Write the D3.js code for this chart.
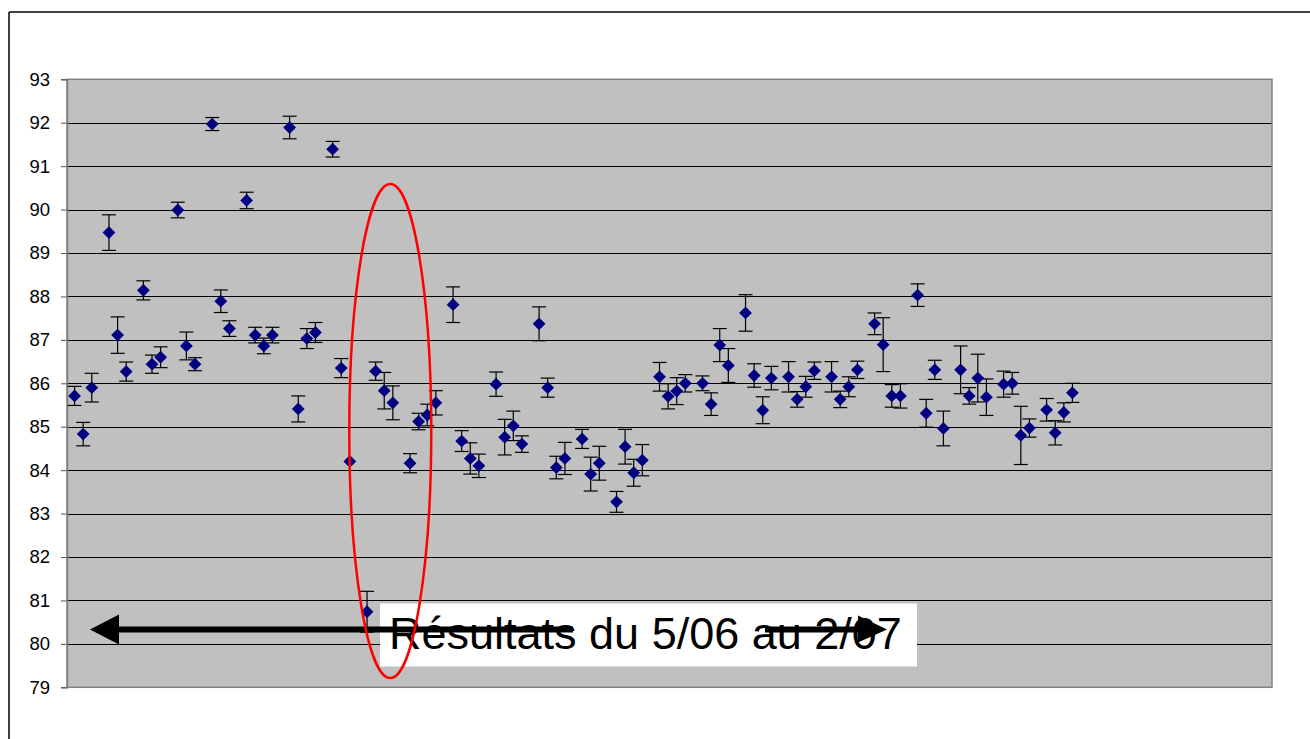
<!DOCTYPE html>
<html>
<head>
<meta charset="utf-8">
<script src="https://cdn.jsdelivr.net/npm/d3@7"></script>
<style>
  html, body { margin: 0; padding: 0; background: #fff; }
  svg { display: block; }
</style>
</head>
<body>
<svg id="chart" width="1310" height="739"></svg>
<script>
// ---- data ----
const dayIndex = [0,1,2,4,5,6,8,9,10,12,13,14,16,17,18,20,21,22,23,25,26,27,28,30,31,32,34,35,36,37,39,40,41,42,44,45,46,47,49,50,51,52,54,55,56,57,59,60,61,63,64,65,66,68,69,70,71,73,74,75,76,78,79,80,81,83,84,85,86,88,89,90,91,93,94,95,96,98,99,100,101,103,104,105,106,108,109,110,111,113,114,115,116];
const values = [85.71,84.83,85.90,89.47,87.11,86.27,88.14,86.44,86.60,89.99,86.86,86.44,91.97,87.89,87.26,90.21,87.11,86.86,87.11,91.89,85.41,87.03,87.17,91.39,86.35,84.20,80.74,86.28,85.83,85.55,84.16,85.12,85.27,85.55,87.81,84.67,84.27,84.10,85.98,84.76,85.02,84.60,87.37,85.90,84.06,84.27,84.72,83.91,84.16,83.27,84.54,83.94,84.23,86.15,85.70,85.82,86.00,86.00,85.52,86.88,86.41,87.62,86.18,85.38,86.12,86.15,85.63,85.92,86.29,86.15,85.63,85.92,86.31,87.37,86.89,85.71,85.71,88.03,85.31,86.31,84.96,86.31,85.71,86.12,85.68,85.98,86.00,84.80,84.97,85.39,84.86,85.33,85.78];
const errors = [0.22,0.27,0.33,0.41,0.42,0.22,0.22,0.21,0.24,0.18,0.32,0.15,0.15,0.26,0.18,0.19,0.18,0.18,0.18,0.26,0.30,0.23,0.23,0.18,0.22,0.0,0.47,0.21,0.42,0.39,0.22,0.19,0.25,0.28,0.41,0.24,0.36,0.27,0.28,0.41,0.34,0.19,0.39,0.22,0.26,0.37,0.22,0.39,0.39,0.24,0.40,0.31,0.36,0.33,0.29,0.31,0.20,0.17,0.26,0.38,0.39,0.42,0.27,0.31,0.27,0.35,0.18,0.24,0.20,0.35,0.19,0.23,0.20,0.25,0.62,0.26,0.28,0.26,0.32,0.22,0.40,0.55,0.19,0.55,0.42,0.30,0.25,0.67,0.21,0.26,0.28,0.22,0.22];
const yTicks = [79,80,81,82,83,84,85,86,87,88,89,90,91,92,93];
const annotationText = "Résultats du 5/06 au 2/07";

// ---- layout ----
const svg = d3.select("#chart");
const plot = {left: 67, right: 1272, top: 79.3, bottom: 687.3};

const x = d3.scaleLinear().domain([-0.88, 139.2]).range([plot.left, plot.right]);
const y = d3.scaleLinear().domain([79, 93]).range([plot.bottom, plot.top]);

// outer chart frame (left and top edges visible)
svg.append("line").attr("x1", 9).attr("x2", 9).attr("y1", 12).attr("y2", 739)
  .attr("stroke", "#000").attr("stroke-width", 1.5);
svg.append("line").attr("x1", 9).attr("x2", 1310).attr("y1", 12).attr("y2", 12)
  .attr("stroke", "#000").attr("stroke-width", 1.5);

// plot background
svg.append("rect")
  .attr("x", plot.left).attr("y", plot.top)
  .attr("width", plot.right - plot.left).attr("height", plot.bottom - plot.top)
  .attr("fill", "#c0c0c0");

// gridlines
svg.append("g").selectAll("line").data(yTicks.filter(t => t > 79 && t < 93)).join("line")
  .attr("x1", plot.left).attr("x2", plot.right)
  .attr("y1", d => Math.round(y(d)) + 0.5).attr("y2", d => Math.round(y(d)) + 0.5)
  .attr("stroke", "#000").attr("stroke-width", 1);

// plot border
svg.append("rect")
  .attr("x", plot.left).attr("y", plot.top)
  .attr("width", plot.right - plot.left).attr("height", plot.bottom - plot.top)
  .attr("fill", "none").attr("stroke", "#808080").attr("stroke-width", 1.5);

// y axis
const yAxis = d3.axisLeft(y).tickValues(yTicks).tickSize(6).tickPadding(11).tickFormat(d3.format("d"));
const gy = svg.append("g").attr("transform", `translate(${plot.left},0)`).call(yAxis);
gy.select(".domain").attr("stroke", "#808080").attr("stroke-width", 1.5);
gy.selectAll(".tick line").attr("stroke", "#555");
gy.selectAll(".tick text").attr("fill", "#000")
  .style("font-family", "'Liberation Sans', Arial, sans-serif").style("font-size", "18.5px");

const pts = dayIndex.map((d, i) => ({d, v: values[i], e: errors[i]}));

// error bars
const eb = svg.append("g").attr("stroke", "#000").attr("stroke-width", 1.2).attr("fill", "none");
pts.filter(p => p.e > 0).forEach(p => {
  const cx = x(p.d), y1 = y(p.v + p.e), y2 = y(p.v - p.e);
  eb.append("line").attr("x1", cx).attr("x2", cx).attr("y1", y1).attr("y2", y2);
  eb.append("line").attr("x1", cx - 7).attr("x2", cx + 7).attr("y1", y1).attr("y2", y1);
  eb.append("line").attr("x1", cx - 7).attr("x2", cx + 7).attr("y1", y2).attr("y2", y2);
});

// diamond markers
const r = 6.4;
svg.append("g").selectAll("path").data(pts).join("path")
  .attr("d", p => {
    const cx = x(p.d), cy = y(p.v);
    return `M${cx},${cy - r}L${cx + r},${cy}L${cx},${cy + r}L${cx - r},${cy}Z`;
  })
  .attr("fill", "#000080");

// annotation text box
const box = svg.append("g");
box.append("rect").attr("x", 380).attr("y", 603.5).attr("width", 537).attr("height", 63).attr("fill", "#fff");
box.append("text").attr("x", 389).attr("y", 649)
  .style("font-family", "'Liberation Sans', Arial, sans-serif").style("font-size", "45px")
  .attr("fill", "#000").text(annotationText);

// arrows
const ay = y(80.33);
const arrows = svg.append("g");
arrows.append("line").attr("x1", 115).attr("x2", 573).attr("y1", ay).attr("y2", ay)
  .attr("stroke", "#000").attr("stroke-width", 6);
arrows.append("path").attr("d", `M90,${ay}L119,${ay - 15}L119,${ay + 15}Z`).attr("fill", "#000");
arrows.append("line").attr("x1", 765).attr("x2", 862).attr("y1", ay).attr("y2", ay)
  .attr("stroke", "#000").attr("stroke-width", 6);
arrows.append("path").attr("d", `M887,${ay}L858,${ay - 14}L858,${ay + 13}Z`).attr("fill", "#000");

// red ellipse highlight
svg.append("ellipse")
  .attr("cx", x(36.7)).attr("cy", y(84.9))
  .attr("rx", 41).attr("ry", 247)
  .attr("fill", "none").attr("stroke", "#ff0000").attr("stroke-width", 2.5);
</script>
</body>
</html>
